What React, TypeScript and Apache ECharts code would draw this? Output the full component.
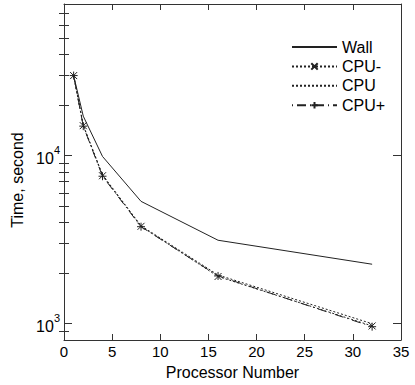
import React, { useEffect, useRef } from "react";
import * as echarts from "echarts";

const procs = [1, 2, 4, 8, 16, 32];
const wall = [30000, 17200, 9900, 5350, 3140, 2260];
const cpuMinus = [30000, 15100, 7600, 3800, 1910, 970];
const cpu = [30000, 15200, 7700, 3830, 1950, 1000];
const cpuPlus = [30000, 15000, 7550, 3780, 1925, 960];

const yMajor = [1000, 10000];
const yMinor = [900, 2000, 3000, 4000, 5000, 6000, 7000, 8000, 9000, 20000, 30000, 40000, 50000, 60000, 70000];
const seriesNames = ["Wall", "CPU-", "CPU", "CPU+"];

const FONT = "'Liberation Sans', Arial, sans-serif";
const AX = "#333";

export default function App() {
  const ref = useRef<HTMLDivElement>(null);
  useEffect(() => {
    if (!ref.current) return;
    const chart = echarts.init(ref.current, null, { renderer: "svg" });
    const pair = (ys: number[]) => procs.map((x, i) => [x, ys[i]]);
    const baseX = {
      type: "value",
      min: 0,
      max: 35,
      interval: 5,
      splitLine: { show: false },
      axisLine: { show: true, onZero: false, lineStyle: { color: AX, width: 1 } },
      axisTick: { show: true, inside: true, length: 6, lineStyle: { color: AX } },
    };
    const baseY = {
      type: "log",
      logBase: 10,
      min: 800,
      max: 80000,
      splitLine: { show: false },
      axisLabel: { show: false },
    };
    chart.setOption({
      animation: false,
      textStyle: { fontFamily: FONT },
      grid: { left: 64, right: 14, top: 4, bottom: 44, containLabel: false },
      legend: {
        orient: "vertical",
        left: 291,
        top: 39,
        padding: 0,
        itemWidth: 45,
        itemHeight: 8,
        itemGap: 3.4,
        textStyle: { fontSize: 16, color: "#000", fontFamily: FONT },
        data: [
          { name: seriesNames[0], itemStyle: { opacity: 0 } },
          { name: seriesNames[1] },
          { name: seriesNames[2], itemStyle: { opacity: 0 } },
          { name: seriesNames[3] },
        ],
      },
      xAxis: [
        {
          ...baseX,
          position: "bottom",
          axisLabel: { show: true, fontSize: 15, color: "#000", margin: 4, fontFamily: FONT },
          name: "Processor Number",
          nameLocation: "middle",
          nameGap: 24,
          nameTextStyle: { fontSize: 16, color: "#000", fontFamily: FONT },
        },
        { ...baseX, position: "top", axisLabel: { show: false } },
      ],
      yAxis: [
        {
          ...baseY,
          position: "left",
          axisLine: { show: true, onZero: false, lineStyle: { color: AX, width: 1 } },
          axisTick: { show: true, inside: true, length: 8, customValues: yMajor, lineStyle: { color: AX } },
          axisLabel: {
            show: true,
            customValues: yMajor,
            margin: 4,
            formatter: (v: number) => `{b|10}{s|${Math.round(Math.log10(v))}}`,
            rich: {
              b: { fontSize: 16, color: "#000", fontFamily: FONT, padding: [6, 0, 0, 0], verticalAlign: "bottom" },
              s: { fontSize: 11, color: "#000", fontFamily: FONT, verticalAlign: "top" },
            },
          },
          name: "Time, second",
          nameLocation: "middle",
          nameGap: 31,
          nameTextStyle: { fontSize: 16, color: "#000", fontFamily: FONT, padding: [0, 16, 0, 0] },
        },
        {
          ...baseY,
          position: "left",
          axisLine: { show: false },
          axisTick: { show: true, inside: true, length: 5, customValues: yMinor, lineStyle: { color: AX } },
        },
        {
          ...baseY,
          position: "right",
          axisLine: { show: true, onZero: false, lineStyle: { color: AX, width: 1 } },
          axisTick: { show: true, inside: true, length: 8, customValues: yMajor, lineStyle: { color: AX } },
        },
        {
          ...baseY,
          position: "right",
          axisLine: { show: false },
          axisTick: { show: true, inside: true, length: 5, customValues: yMinor, lineStyle: { color: AX } },
        },
      ],
      series: [
        {
          name: seriesNames[0],
          type: "line",
          data: pair(wall),
          symbol: "none",
          lineStyle: { color: "#222", width: 1, type: "solid" },
          itemStyle: { color: "#222" },
        },
        {
          name: seriesNames[1],
          type: "line",
          data: pair(cpuMinus),
          symbol: "path://M0,0L10,10M10,0L0,10",
          symbolSize: 7,
          lineStyle: { color: "#222", width: 1, type: [2, 2] },
          itemStyle: { color: "#222", borderColor: "#222", borderWidth: 1 },
        },
        {
          name: seriesNames[2],
          type: "line",
          data: pair(cpu),
          symbol: "none",
          lineStyle: { color: "#222", width: 1, type: [2, 2] },
          itemStyle: { color: "#222" },
        },
        {
          name: seriesNames[3],
          type: "line",
          data: pair(cpuPlus),
          symbol: "path://M5,0L5,10M0,5L10,5",
          symbolSize: 8,
          lineStyle: { color: "#222", width: 1, type: [1, 4, 9, 4] },
          itemStyle: { color: "#222", borderColor: "#222", borderWidth: 1 },
        },
      ],
    });
    return () => chart.dispose();
  }, []);
  return <div ref={ref} style={{ position: "absolute", left: 0, top: 0, width: 415, height: 385 }} />;
}
